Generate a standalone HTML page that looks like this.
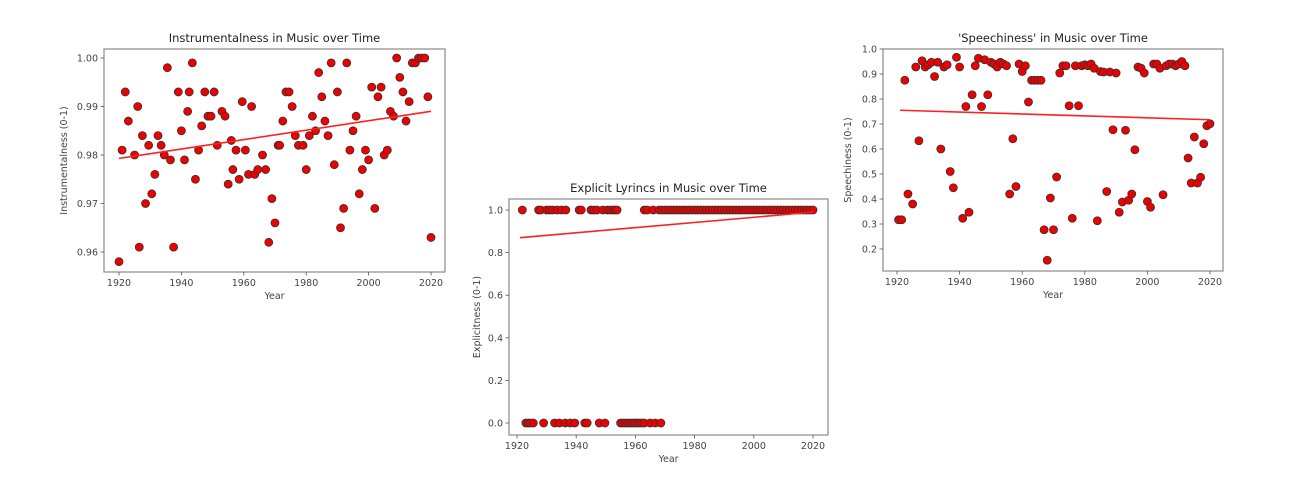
<!DOCTYPE html>
<html><head><meta charset="utf-8"><style>
html,body{margin:0;padding:0;background:#fff;width:1309px;height:488px;overflow:hidden}
svg{display:block;font-family:"DejaVu Sans","Liberation Sans",sans-serif}
</style></head><body>
<svg id="fig" width="1309" height="488" viewBox="0 0 1309 488"></svg>
<script>
// ---- Chart 1: Instrumentalness ----
const instYears = [1920,1921,1922,1923,1925,1926,1926.5,1927.5,1928.5,1929.5,1930.5,1931.5,1932.5,1933.5,1934.5,1935.5,1936.5,1937.5,1939,1940,1941,1942,1942.5,1943.5,1944.5,1945.5,1946.5,1947.5,1948.5,1949.5,1950.5,1951.5,1953,1954,1955,1956,1956.5,1957.5,1958.5,1959.5,1960.5,1961.5,1962.5,1963.5,1964.5,1966,1967,1968,1969,1970,1971,1971.5,1972.5,1973.5,1974.5,1975.5,1976.5,1977.5,1979,1980,1981,1982,1983,1984,1985,1986,1987,1988,1989,1990,1991,1992,1993,1994,1995,1996,1997,1998,1999,2000,2001,2002,2003,2004,2005,2006,2007,2008,2009,2010,2011,2012,2013,2014,2015,2016,2017,2018,2019,2020];
const instValues = [0.958,0.981,0.993,0.987,0.980,0.990,0.961,0.984,0.970,0.982,0.972,0.976,0.984,0.982,0.980,0.998,0.979,0.961,0.993,0.985,0.979,0.989,0.993,0.999,0.975,0.981,0.986,0.993,0.988,0.988,0.993,0.982,0.989,0.988,0.974,0.983,0.977,0.981,0.975,0.991,0.981,0.976,0.990,0.976,0.977,0.980,0.977,0.962,0.971,0.966,0.982,0.982,0.987,0.993,0.993,0.990,0.984,0.982,0.982,0.977,0.984,0.988,0.985,0.997,0.992,0.987,0.984,0.999,0.978,0.993,0.965,0.969,0.999,0.981,0.985,0.988,0.972,0.977,0.981,0.979,0.994,0.969,0.992,0.994,0.980,0.981,0.989,0.988,1.000,0.996,0.993,0.987,0.991,0.999,0.999,1.000,1.000,1.000,0.992,0.963];
const instTrendYears = [1920,2020];
const instTrendValues = [0.9793,0.9890];
const instYTicks = [0.96,0.97,0.98,0.99,1.00];
const instYTickLabels = ["0.96","0.97","0.98","0.99","1.00"];

// ---- Chart 2: Explicitness ----
const explOneYears = [1921.8,1927.3,1928,1930,1931,1932,1933.5,1935,1936.5,1941,1941.7,1945,1946,1947,1949,1950.5,1951.5,1952.5,1953.3,1953.8,1963,1964,1966,1968,1969,1970,1971,1972,1973,1974,1975,1976,1977,1978,1979,1980,1981,1982,1983,1984,1985,1986,1987,1988,1989,1990,1991,1992,1993,1994,1995,1996,1997,1998,1999,2000,2001,2002,2003,2004,2005,2006,2007,2008,2009,2010,2011,2012,2013,2014,2015,2016,2017,2018,2019,2020];
const explZeroYears = [1923,1923.8,1924.5,1925.5,1929,1932.7,1934.3,1936.3,1938,1939.5,1942.9,1943.7,1947.8,1949.7,1955,1955.8,1956.6,1957.4,1958.2,1959,1959.8,1960.6,1961.4,1962.2,1963,1965,1966.7,1968.6];
const explTrendYears = [1921,2020];
const explTrendValues = [0.87,0.99];
const explYTicks = [0,0.2,0.4,0.6,0.8,1.0];
const explYTickLabels = ["0.0","0.2","0.4","0.6","0.8","1.0"];

// ---- Chart 3: Speechiness ----
const speechYears = [1920.5,1921.5,1922.5,1923.5,1925,1926,1927,1928,1929,1930,1931,1932,1933,1934,1935,1936,1937,1938,1939,1940,1941,1942,1943,1944,1945,1946,1947,1948,1949,1950,1951,1952,1953,1954,1955,1956,1957,1958,1959,1960,1961,1962,1963,1964,1965,1966,1967,1968,1969,1970,1971,1972,1973,1974,1975,1976,1977,1978,1979,1980,1981,1982,1983,1984,1985,1986,1987,1988,1989,1990,1991,1992,1993,1994,1995,1996,1997,1998,1999,2000,2001,2002,2003,2004,2005,2006,2007,2008,2009,2010,2011,2012,2013,2014,2015,2016,2017,2018,2019,2020];
const speechValues = [0.317,0.317,0.875,0.42,0.38,0.928,0.633,0.953,0.928,0.937,0.947,0.89,0.947,0.6,0.928,0.937,0.51,0.445,0.967,0.928,0.323,0.77,0.347,0.817,0.933,0.963,0.77,0.957,0.817,0.947,0.94,0.928,0.947,0.94,0.933,0.42,0.641,0.45,0.94,0.91,0.933,0.788,0.875,0.875,0.875,0.875,0.277,0.155,0.404,0.277,0.488,0.904,0.933,0.933,0.773,0.323,0.933,0.773,0.933,0.937,0.933,0.94,0.923,0.313,0.91,0.908,0.43,0.908,0.677,0.904,0.347,0.388,0.675,0.395,0.42,0.597,0.928,0.923,0.904,0.39,0.367,0.94,0.94,0.923,0.417,0.933,0.94,0.94,0.933,0.94,0.95,0.933,0.564,0.464,0.648,0.464,0.487,0.621,0.693,0.701];
const speechTrendYears = [1921,2020];
const speechTrendValues = [0.755,0.717];
const speechYTicks = [0.2,0.3,0.4,0.5,0.6,0.7,0.8,0.9,1.0];
const speechYTickLabels = ["0.2","0.3","0.4","0.5","0.6","0.7","0.8","0.9","1.0"];

const xTicks = [1920,1940,1960,1980,2000,2020];
const xTickLabels = ["1920","1940","1960","1980","2000","2020"];

const NS = "http://www.w3.org/2000/svg";
const fig = document.getElementById('fig');
function mk(tag, attrs, parent){
  const e = document.createElementNS(NS, tag);
  for (const k in attrs) e.setAttribute(k, attrs[k]);
  (parent||fig).appendChild(e);
  return e;
}
function linScale(d0,d1,r0,r1){ return v => r0 + (v-d0)/(d1-d0)*(r1-r0); }

function drawChart(cfg){
  const g = mk('g', {});
  
  
  const x = linScale(1920, 2020, cfg.x1920, cfg.x2020);
  const y = linScale(cfg.yv0, cfg.yv1, cfg.yp0, cfg.yp1);
  const fr = mk('rect', {x:cfg.L, y:cfg.T, width:cfg.R-cfg.L, height:cfg.B-cfg.T, fill:'none', stroke:'#8a8a8a', 'stroke-width':1.2}, g);
  
  
  const t = mk('text', {x:(cfg.L+cfg.R)/2, y:cfg.T-7, 'text-anchor':'middle', 'font-size':11.5, fill:'#222'}, g);
  t.textContent = cfg.title;
  
  
  xTicks.forEach((v,i) => {
    const px = x(v);
    mk('line', {x1:px, x2:px, y1:cfg.B, y2:cfg.B+3.5, stroke:'#555', 'stroke-width':0.8}, g);
    const tl = mk('text', {x:px, y:cfg.B+14, 'text-anchor':'middle', 'font-size':9.5, fill:'#444'}, g);
    tl.textContent = xTickLabels[i];
    
    
  });
  cfg.yTicks.forEach((v,i) => {
    const py = y(v);
    mk('line', {x1:cfg.L-3.5, x2:cfg.L, y1:py, y2:py, stroke:'#555', 'stroke-width':0.8}, g);
    const tl = mk('text', {x:cfg.L-6, y:py+3.5, 'text-anchor':'end', 'font-size':9.5, fill:'#444'}, g);
    tl.textContent = cfg.yTickLabels[i];
    
    
  });
  const xt = mk('text', {x:(cfg.L+cfg.R)/2, y:cfg.B+27, 'text-anchor':'middle', 'font-size':9.5, fill:'#444'}, g);
  xt.textContent = 'Year';
  
  
  const yx = cfg.ylabelX, yy = (cfg.T+cfg.B)/2;
  const yt = mk('text', {x:yx, y:yy, 'text-anchor':'middle', 'font-size':9.5, fill:'#444', transform:`rotate(-90 ${yx} ${yy})`}, g);
  yt.textContent = cfg.ylabel;
  
  
  cfg.pts.forEach(([yr,v]) => {
    const c = mk('circle', {cx:x(yr), cy:y(v), r:4, fill:'#ee0000', stroke:'#333', 'stroke-width':0.8}, g);
    
    
  });
  const ln = mk('line', {x1:x(cfg.trendX[0]), y1:y(cfg.trendV[0]), x2:x(cfg.trendX[1]), y2:y(cfg.trendV[1]), stroke:'#ff2020', 'stroke-width':1.6}, g);
  
  
}

drawChart({name:'instrumentalness-chart', title:'Instrumentalness in Music over Time', ylabel:'Instrumentalness (0-1)',
  L:104, R:445, T:49, B:272, x1920:119, x2020:431, yv0:0.96, yv1:1.00, yp0:252, yp1:58, ylabelX:67,
  yTicks:instYTicks, yTickLabels:instYTickLabels,
  pts:instYears.map((yr,i)=>[yr,instValues[i]]), trendX:instTrendYears, trendV:instTrendValues});

drawChart({name:'explicitness-chart', title:'Explicit Lyrincs in Music over Time', ylabel:'Explicitness (0-1)',
  L:509, R:828, T:199, B:435, x1920:517, x2020:813, yv0:0, yv1:1, yp0:423, yp1:210, ylabelX:480,
  yTicks:explYTicks, yTickLabels:explYTickLabels,
  pts:explOneYears.map(yr=>[yr,1]).concat(explZeroYears.map(yr=>[yr,0])), trendX:explTrendYears, trendV:explTrendValues});

drawChart({name:'speechiness-chart', title:"'Speechiness' in Music over Time", ylabel:'Speechiness (0-1)',
  L:883, R:1223, T:49, B:271, x1920:897, x2020:1210, yv0:0.2, yv1:1.0, yp0:249, yp1:49, ylabelX:851,
  yTicks:speechYTicks, yTickLabels:speechYTickLabels,
  pts:speechYears.map((yr,i)=>[yr,speechValues[i]]), trendX:speechTrendYears, trendV:speechTrendValues});
</script>
</body></html>
